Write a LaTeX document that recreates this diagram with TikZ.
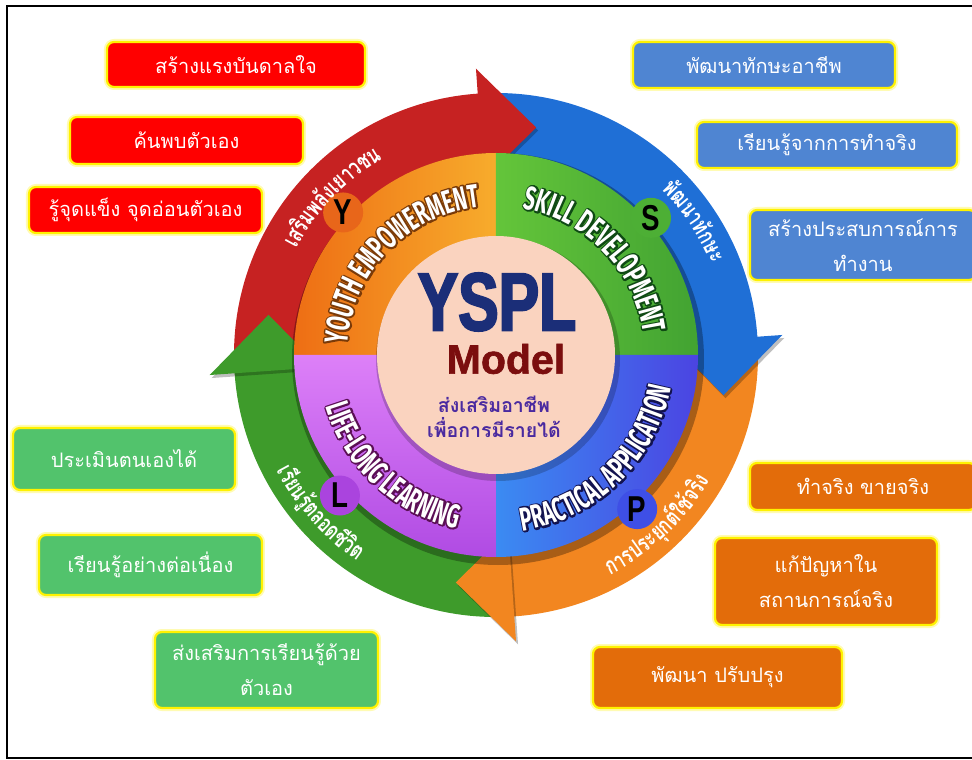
\documentclass[tikz,border=0pt]{standalone}
\usepackage{fontspec}
\setmainfont{Liberation Sans}
\newfontfamily\thaifont[Script=Thai]{Loma}
\newfontfamily\thaiarcfont[Script=Thai,FakeStretch=0.72]{Loma}
\newfontfamily\ringfont[FakeStretch=0.6]{Fira Sans}
\newfontfamily\headfont[FakeStretch=0.77]{Liberation Sans}
\newfontfamily\titlefont[FakeStretch=0.74,FakeBold=2.5]{Liberation Sans}
\newfontfamily\modelfont[FakeBold=1.5]{Liberation Sans}
\usetikzlibrary{decorations.text,shadings}

\definecolor{boxred}{HTML}{FF0000}
\definecolor{boxblue}{HTML}{4F85D2}
\definecolor{boxorange}{HTML}{E36C0A}
\definecolor{boxgreen}{HTML}{52C36C}
\definecolor{ringred}{HTML}{C62222}
\definecolor{ringblue}{HTML}{1F6FD6}
\definecolor{ringorange}{HTML}{F28620}
\definecolor{ringgreen}{HTML}{3E9B2B}
\definecolor{qorangeA}{HTML}{EE6E14}
\definecolor{qorangeB}{HTML}{F7AC2C}
\definecolor{qgreenA}{HTML}{64C53A}
\definecolor{qgreenB}{HTML}{42A332}
\definecolor{qblueA}{HTML}{3B8BF2}
\definecolor{qblueB}{HTML}{4B44E2}
\definecolor{qpurpleA}{HTML}{DD80F8}
\definecolor{qpurpleB}{HTML}{B04BE3}
\definecolor{badgeY}{HTML}{E8661A}
\definecolor{badgeS}{HTML}{4DAF35}
\definecolor{badgeL}{HTML}{AA44DE}
\definecolor{badgeP}{HTML}{3E4FE6}
\definecolor{peach}{HTML}{FAD3BF}
\definecolor{ysplblue}{HTML}{1B2E78}
\definecolor{modelred}{HTML}{7B0E0E}
\definecolor{thaipurple}{HTML}{4A2AA0}
\definecolor{olbrown}{HTML}{7A3A08}
\definecolor{olgreen}{HTML}{0F4A14}
\definecolor{olnavy}{HTML}{12124F}
\definecolor{olpurple}{HTML}{5B0F55}

% outlined english text on the inner ring (stroked copy, then white copy)
\newcommand{\ringtext}[5]{%
  \path[decorate, decoration={text along path, text color=#1, text align=center,
      text={|\ringfont\bfseries\fontsize{33}{33}\selectfont\special{pdf:literal direct 1 Tr 3.4 w 1 j}|#5}}]
      (#3:#2pt) arc[start angle=#3, end angle=#4, radius=#2pt];
  \path[decorate, decoration={text along path, text color=white, text align=center,
      text={|\ringfont\bfseries\fontsize{33}{33}\selectfont\special{pdf:literal direct 0 Tr}|#5}}]
      (#3:#2pt) arc[start angle=#3, end angle=#4, radius=#2pt];
}
% thai text on the outer arrows
\newcommand{\thairing}[4]{%
  \path[decorate, decoration={text along path, text color=white, text align=center,
      text={|\thaiarcfont\bfseries\fontsize{24}{24}\selectfont|#4}}]
      (#2:#1pt) arc[start angle=#2, end angle=#3, radius=#1pt];
}

\begin{document}
\begin{tikzpicture}[
    x=1pt, y=1pt,
    item/.style={rectangle, rounded corners=7pt, draw=yellow, line width=2.2pt, text=white, align=center,
      inner sep=0pt, font=\thaifont\fontsize{20}{35}\selectfont, preaction={draw=yellow!30, line width=6pt}},
    redbox/.style={item, fill=boxred},
    bluebox/.style={item, fill=boxblue},
    orangebox/.style={item, fill=boxorange},
    greenbox/.style={item, fill=boxgreen},
    badge/.style={circle, minimum size=40pt, inner sep=0pt, text=black,
      font=\headfont\bfseries\fontsize{36}{36}\selectfont}
]
\useasboundingbox (-496,-405) rectangle (476,355);

% Frame
\draw[line width=1.5pt] (-489,349) rectangle (482,-403);

% Arrow ring
\foreach \b/\col in {90/ringred, 0/ringblue, -90/ringorange, 180/ringgreen}
  \fill[\col] ({\b+92}:262pt) arc[start angle=\b+92, end angle=\b+3, radius=262pt]
    -- ({\b+3}:200pt) arc[start angle=\b+3, end angle=\b+92, radius=200pt] -- cycle;
\foreach \b/\col in {90/ringred, 0/ringblue, -90/ringorange, 180/ringgreen}{
  \fill[black, opacity=0.25, shift={(2pt,-3pt)}] ({\b+4}:176pt) -- ({\b+4}:287pt) -- ({\b-10}:231pt) -- cycle;
  \fill[\col] ({\b+4}:176pt) -- ({\b+4}:287pt) -- ({\b-10}:231pt) -- cycle;
}

% Inner ring
\fill[black, opacity=0.3] (2,-4) circle[radius=206pt];
\shade[left color=qorangeA, right color=qorangeB] (0,0) -- (180:202pt) arc[start angle=180, end angle=90, radius=202pt] -- cycle;
\shade[left color=qgreenA, right color=qgreenB] (0,0) -- (90:202pt) arc[start angle=90, end angle=0, radius=202pt] -- cycle;
\shade[left color=qblueA, right color=qblueB] (0,0) -- (0:202pt) arc[start angle=0, end angle=-90, radius=202pt] -- cycle;
\shade[top color=qpurpleA, bottom color=qpurpleB] (0,0) -- (270:202pt) arc[start angle=270, end angle=180, radius=202pt] -- cycle;

% Badges
\node[badge, fill=badgeY] (yb) at (137:209pt) {Y};
\node[badge, fill=badgeS] (sb) at (41.5:207pt) {S};
\node[badge, fill=badgeL] (lb) at (222:210pt) {L};
\node[badge, fill=badgeP] (pb) at (312.5:209pt) {P};

% Centre
\fill[black, opacity=0.2] (2,-4) circle[radius=122pt];
\fill[peach] (0,0) circle[radius=119pt];

% Ring texts
\ringtext{olbrown}{149}{206}{66}{YOUTH EMPOWERMENT}
\ringtext{olgreen}{149}{114}{-26}{SKILL DEVELOPMENT}
\ringtext{olnavy}{178}{-116}{24}{PRACTICAL APPLICATION}
\ringtext{olpurple}{178}{157}{297}{LIFE-LONG LEARNING}

\thairing{226}{186}{86}{เส{ริ}ม{พ}{ลั}งเยาวชน}
\thairing{234}{84}{-16}{{พั}ฒนา{ทั}กษะ}
\thairing{248}{-96.5}{3.5}{การประ{ยุ}ก{ต์}ใ{ช้}จ{ริ}ง}
\thairing{248}{172}{272}{เ{รี}ยน{รู้}ตลอด{ชี}{วิ}ต}

\node[font=\titlefont\bfseries\fontsize{82}{82}\selectfont, text=ysplblue] (title) at (1,53) {YSPL};
\node[font=\modelfont\bfseries\fontsize{41}{41}\selectfont, text=modelred] (model) at (10,-4) {Model};
\node[font=\thaifont\bfseries\fontsize{19.5}{25}\selectfont, text=thaipurple, align=center] (sub) at (-2,-62)
  {ส่งเสริมอาชีพ\\เพื่อการมีรายได้};

% Youth boxes
\node[redbox, minimum width=258pt, minimum height=45pt] (y1) at (-260,290.5) {สร้างแรงบันดาลใจ};
\node[redbox, minimum width=233pt, minimum height=47pt] (y2) at (-309.5,214.5) {ค้นพบตัวเอง};
\node[redbox, minimum width=233pt, minimum height=46pt] (y3) at (-350.5,145) {รู้จุดแข็ง จุดอ่อนตัวเอง};

% Skill boxes
\node[bluebox, minimum width=262pt, minimum height=46pt] (s1) at (268,290) {พัฒนาทักษะอาชีพ};
\node[bluebox, minimum width=260pt, minimum height=46pt] (s2) at (331,210) {เรียนรู้จากการทำจริง};
\node[bluebox, minimum width=226pt, minimum height=70pt] (s3) at (367,110) {สร้างประสบการณ์การ\\ทำงาน};

% Practical boxes
\node[orangebox, minimum width=226pt, minimum height=47pt] (p1) at (367,-131.5) {ทำจริง ขายจริง};
\node[orangebox, minimum width=222pt, minimum height=87pt] (p2) at (330,-226.5) {แก้ปัญหาใน\\สถานการณ์จริง};
\node[orangebox, minimum width=249pt, minimum height=61pt] (p3) at (221.5,-322.5) {พัฒนา ปรับปรุง};

% Life-long boxes
\node[greenbox, minimum width=222pt, minimum height=62pt] (l1) at (-372,-104) {ประเมินตนเองได้};
\node[greenbox, minimum width=223pt, minimum height=60pt] (l2) at (-345.5,-210) {เรียนรู้อย่างต่อเนื่อง};
\node[greenbox, minimum width=223pt, minimum height=76pt] (l3) at (-229.5,-315) {ส่งเสริมการเรียนรู้ด้วย\\ตัวเอง};

\end{tikzpicture}
\end{document}
